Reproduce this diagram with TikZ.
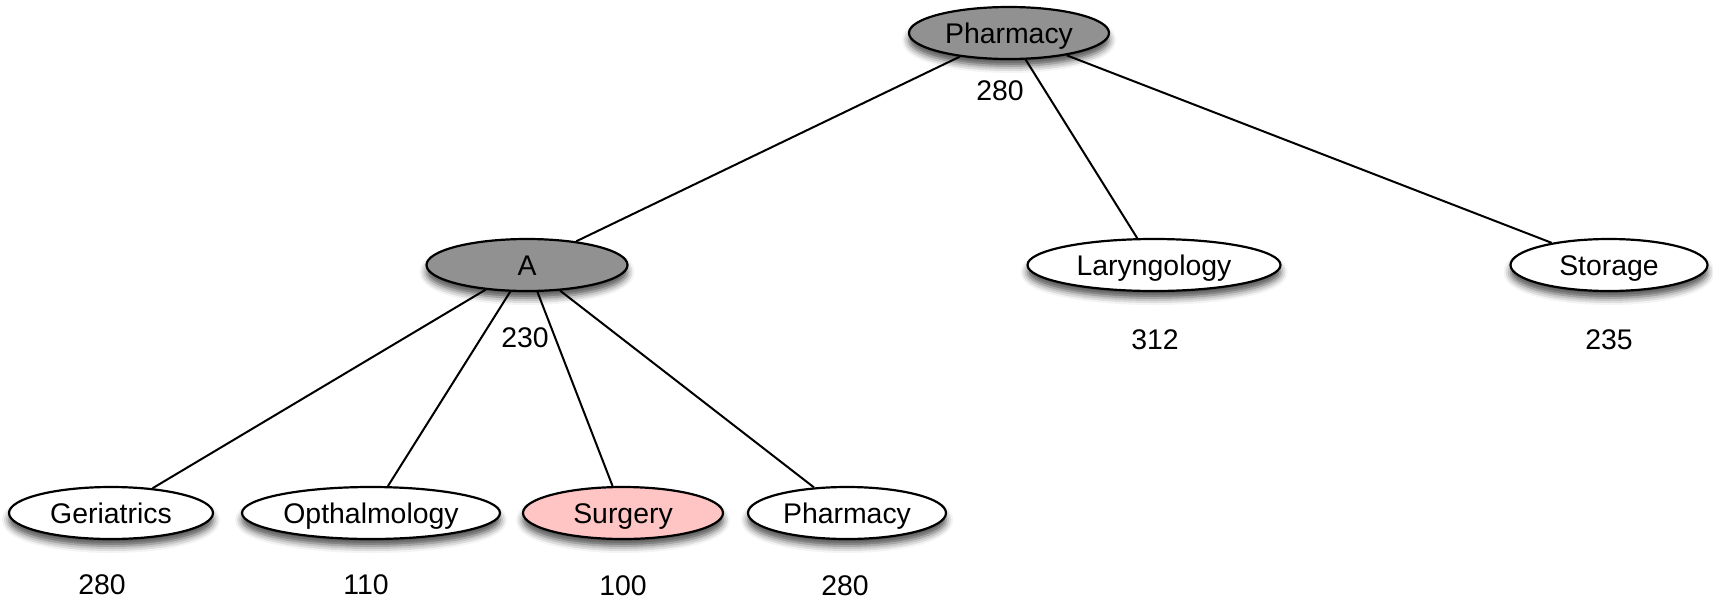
\documentclass[tikz,border=0pt]{standalone}
\usepackage{fontspec}
\setmainfont{Liberation Sans}
\usetikzlibrary{shapes.geometric,shadows.blur}
\definecolor{nodegray}{RGB}{145,145,145}
\definecolor{nodepink}{RGB}{255,196,196}
\tikzset{
  tnode/.style={ellipse, draw=black, line width=2.2pt, minimum height=52pt, inner sep=0pt,
    text height=20.3pt, text depth=0pt,
    font=\fontsize{28.4}{34}\selectfont,
    blur shadow={shadow xshift=0pt, shadow yshift=-7pt, shadow blur radius=7pt, shadow opacity=70}},
  graynode/.style={tnode, fill=nodegray},
  whitenode/.style={tnode, fill=white},
  pinknode/.style={tnode, fill=nodepink},
  vallabel/.style={font=\fontsize{28.4}{34}\selectfont, inner sep=0pt},
  edge/.style={line width=2pt, draw=black}
}
\begin{document}
\begin{tikzpicture}[x=1pt,y=-1pt]
\useasboundingbox (0,0) rectangle (1713,600);
% nodes
\node[graynode, minimum width=200pt] (root) at (1009,33) {Pharmacy};
\node[graynode, minimum width=201pt] (a) at (527,265) {A};
\node[whitenode, minimum width=253pt] (lar) at (1154,265) {Laryngology};
\node[whitenode, minimum width=197pt] (sto) at (1609,265) {Storage};
\node[whitenode, minimum width=204pt] (ger) at (111,513) {Geriatrics};
\node[whitenode, minimum width=258pt] (opt) at (371,513) {Opthalmology};
\node[pinknode, minimum width=200pt] (sur) at (623,513) {Surgery};
\node[whitenode, minimum width=198pt] (pha) at (847,513) {Pharmacy};
% labels
\node[vallabel] (lroot) at (1000,91) {280};
\node[vallabel] (la) at (525,338) {230};
\node[vallabel] (llar) at (1155,340) {312};
\node[vallabel] (lsto) at (1609,340) {235};
\node[vallabel] (lger) at (102,585) {280};
\node[vallabel] (lopt) at (366,585) {110};
\node[vallabel] (lsur) at (623,586) {100};
\node[vallabel] (lpha) at (845,586) {280};
% edges
\draw[edge] (root) -- (a);
\draw[edge] (root) -- (lar);
\draw[edge] (root) -- (sto);
\draw[edge] (a) -- (ger);
\draw[edge] (a) -- (opt);
\draw[edge] (a) -- (sur);
\draw[edge] (a) -- (pha);
\end{tikzpicture}
\end{document}
